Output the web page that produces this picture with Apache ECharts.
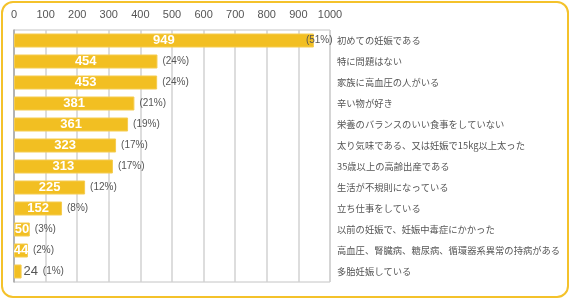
<!DOCTYPE html>
<html>
<head>
<meta charset="utf-8">
<script src="https://cdn.jsdelivr.net/npm/echarts@6/dist/echarts.min.js"></script>
<style>
  html, body { margin: 0; padding: 0; background: #fff; }
  #wrap { position: relative; width: 570px; height: 300px; }
  #main { position: absolute; left: 0; top: 0; width: 570px; height: 300px; }
  #frame {
    position: absolute; left: 1px; top: 1px; width: 564px; height: 293px;
    border: 2px solid #f4c22b; border-radius: 12px; pointer-events: none;
  }
</style>
</head>
<body>
<div id="wrap">
  <div id="main"></div>
  <div id="frame"></div>
</div>
<script>
var categories = [
  '初めての妊娠である',
  '特に問題はない',
  '家族に高血圧の人がいる',
  '辛い物が好き',
  '栄養のバランスのいい食事をしていない',
  '太り気味である、又は妊娠で15kg以上太った',
  '35歳以上の高齢出産である',
  '生活が不規則になっている',
  '立ち仕事をしている',
  '以前の妊娠で、妊娠中毒症にかかった',
  '高血圧、腎臓病、糖尿病、循環器系異常の持病がある',
  '多胎妊娠している'
];
var counts = [949, 454, 453, 381, 361, 323, 313, 225, 152, 50, 44, 24];
var percents = [51, 24, 24, 21, 19, 17, 17, 12, 8, 3, 2, 1];
var xTicks = [0, 100, 200, 300, 400, 500, 600, 700, 800, 900, 1000];

var chart = echarts.init(document.getElementById('main'));

var barColor = '#f2bf22';
var textGray = '#555';
var jpFont = '"Noto Sans CJK JP", sans-serif';

// value labels: inside the bar, except the tiny last one
var valueData = counts.map(function (v, i) {
  var item = { value: v };
  if (v < 40) {
    item.label = { show: false };
  }
  return item;
});

// percent labels, to the right of each bar
var pctData = counts.map(function (v, i) {
  var item = { value: v };
  if (v < 40) {
    item.label = {
      formatter: '{v|' + v + '} (' + percents[i] + '%)',
      distance: 2
    };
  }
  if (v > 900) {
    item.label = { offset: [-13, 0] };
  }
  return item;
});

var option = {
  animation: false,
  grid: {
    left: 14, top: 30, width: 316, height: 252,
    show: true, borderColor: '#c4c4c4', borderWidth: 1
  },
  xAxis: {
    type: 'value',
    position: 'top',
    min: xTicks[0],
    max: xTicks[xTicks.length - 1],
    interval: 100,
    axisLine: { show: false },
    axisTick: { show: false },
    axisLabel: {
      color: textGray, fontSize: 11, margin: 10, fontFamily: 'sans-serif',
      formatter: function (v) { return String(v); }
    },
    splitLine: { lineStyle: { color: '#d2d2d2', width: 1.5 } }
  },
  yAxis: [{
    type: 'category',
    data: categories,
    inverse: true,
    position: 'left',
    axisLine: { lineStyle: { color: '#a8a8a8', width: 1.5 } },
    axisTick: { inside: true, length: 3, lineStyle: { color: '#999' } },
    axisLabel: { show: false }
  }, {
    type: 'category',
    data: categories,
    inverse: true,
    position: 'right',
    axisLine: { show: false },
    axisTick: { show: false },
    axisLabel: { color: textGray, fontSize: 9.3, margin: 7, fontFamily: jpFont }
  }],
  series: [{
    type: 'bar',
    yAxisIndex: 0,
    data: valueData,
    barWidth: 14,
    itemStyle: { color: barColor, borderColor: '#f5cc50', borderWidth: 1 },
    label: {
      show: true,
      position: 'inside',
      color: '#fff',
      fontSize: 13,
      fontWeight: 'bold',
      fontFamily: 'sans-serif'
    },
    z: 3
  }, {
    type: 'bar',
    yAxisIndex: 0,
    data: pctData,
    barWidth: 14,
    barGap: '-100%',
    itemStyle: { color: 'rgba(0,0,0,0)' },
    label: {
      show: true,
      position: 'right',
      distance: 5,
      color: textGray,
      fontSize: 10,
      fontFamily: 'sans-serif',
      formatter: function (p) { return '(' + percents[p.dataIndex] + '%)'; },
      rich: { v: { color: textGray, fontSize: 13, fontFamily: 'sans-serif', padding: [0, 2, 0, 0] } }
    },
    z: 4
  }]
};

chart.setOption(option);
</script>
</body>
</html>
